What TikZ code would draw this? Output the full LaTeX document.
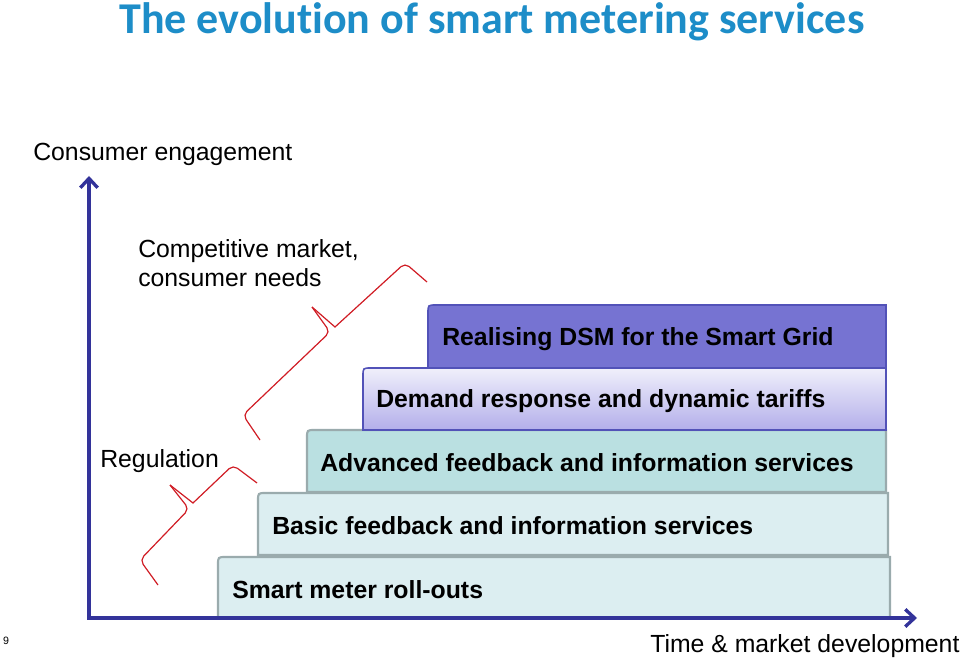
\documentclass[tikz,border=0pt]{standalone}
\usepackage{fontspec}
\setmainfont{Liberation Sans}
\newfontfamily\titlefont[Ligatures=NoCommon]{Carlito}
\usetikzlibrary{arrows.meta}
\definecolor{titleblue}{HTML}{1D8DC8}
\definecolor{axisblue}{HTML}{33339A}
\definecolor{dsmfill}{HTML}{7673D2}
\definecolor{dsmline}{HTML}{5252B8}
\definecolor{drtop}{HTML}{F0EFFB}
\definecolor{drbot}{HTML}{B3AFEA}
\definecolor{advfill}{HTML}{BAE0E1}
\definecolor{lightfill}{HTML}{DCEEF1}
\definecolor{grayline}{HTML}{9AABAD}
\definecolor{bracered}{HTML}{D01C24}
\tikzset{
  stepbox/.style={line width=1.6pt},
  boxtext/.style={font=\bfseries\fontsize{18.6}{21}\selectfont, anchor=west, inner sep=0pt},
  labeltext/.style={font=\fontsize{18.6}{22}\selectfont, anchor=west, inner sep=0pt, align=left},
  bracepath/.style={draw=bracered, line width=0.9pt, rounded corners=4pt},
}
\newcommand\stepshape[4]{(#1,#4) -- (#1,#2+8) .. controls (#1,#2) .. (#1+8,#2) -- (#3,#2) -- (#3,#4) -- cycle}
\begin{document}
\begin{tikzpicture}[x=0.75pt,y=-0.75pt]
\useasboundingbox (0,0) rectangle (960,659);
% title
\node[font=\titlefont\bfseries\fontsize{33}{38}\selectfont, text=titleblue, inner sep=0pt] (title) at (492,22) {The evolution of smart metering services};

% boxes (bottom to top)
\path[stepbox, draw=grayline, fill=lightfill] \stepshape{218}{557}{890}{618};
\path[stepbox, draw=grayline, fill=lightfill] \stepshape{258}{493}{888}{555};
\path[stepbox, draw=grayline, fill=advfill] \stepshape{307}{430}{886}{492};
\path[stepbox, draw=dsmline, top color=drtop, bottom color=drbot, line width=1.2pt] \stepshape{363}{368}{886}{430};
\path[stepbox, draw=dsmline, fill=dsmfill, line width=1.2pt] \stepshape{428}{305}{886}{368};

\node[boxtext] (dsm) at (442,339) {Realising DSM for the Smart Grid};
\node[boxtext] (dr) at (376,401) {Demand response and dynamic tariffs};
\node[boxtext] (adv) at (320,463) {Advanced feedback and information services};
\node[boxtext] (basic) at (272,526) {Basic feedback and information services};
\node[boxtext] (smart) at (232,590) {Smart meter roll-outs};

% axes
\coordinate (ytip) at (89,176);
\coordinate (origin) at (89,618);
\coordinate (xtip) at (917,618);
\draw[axisblue, line width=3pt, {Straight Barb[length=7pt,width=13pt,line width=2.5pt]}-{Straight Barb[length=7pt,width=13pt,line width=2.5pt]}] (ytip) -- (origin) -- (xtip);

% labels
\node[labeltext] (ce) at (33,154) {Consumer engagement};
\node[labeltext, anchor=north west] (cm) at (138,239) {Competitive market,\\consumer needs};
\node[labeltext] (reg) at (100,461) {Regulation};
\node[labeltext] (time) at (650,646) {Time \& market development};
\node[font=\fontsize{8}{9}\selectfont, inner sep=0pt] (pg) at (6,641) {9};

% braces
\draw[bracepath] (260,440) -- (243,415) -- (330,332) [sharp corners]-- (312,307);
\draw[bracepath] (312,307) [sharp corners]-- (335,327) [rounded corners=4pt]-- (405,263) -- (427,282);
\draw[bracepath] (158,585) -- (140,560) -- (189,509) [sharp corners]-- (170,485);
\draw[bracepath] (170,485) [sharp corners]-- (193,503) [rounded corners=4pt]-- (233,465) -- (257,483);
\end{tikzpicture}
\end{document}
